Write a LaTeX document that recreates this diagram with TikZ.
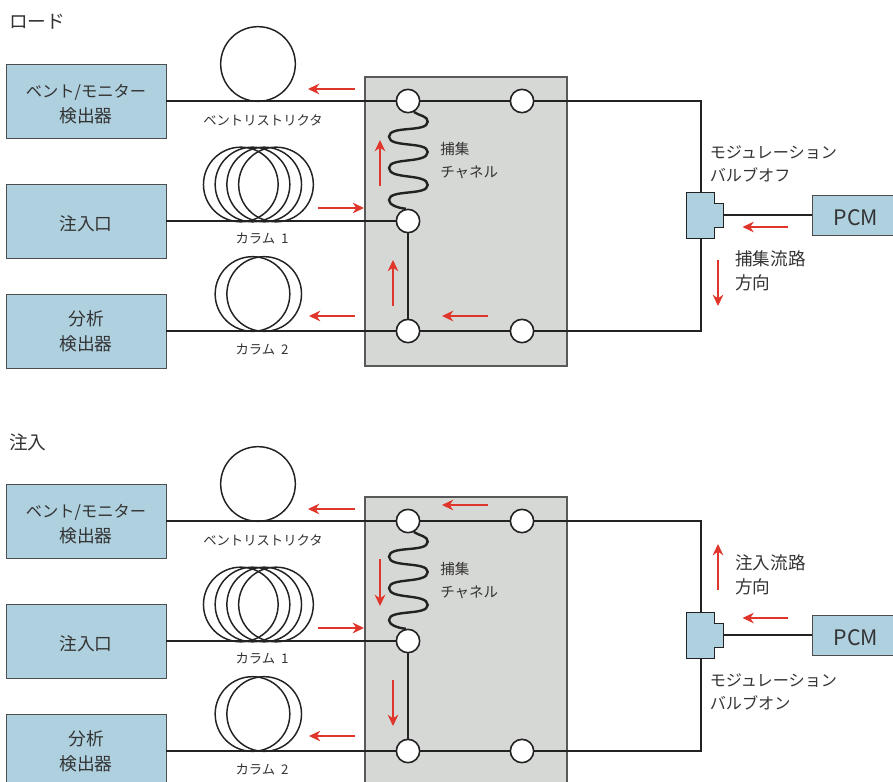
\documentclass[tikz,border=0pt]{standalone}
\usepackage{fontspec}
\setmainfont{Noto Sans CJK JP}
\usetikzlibrary{arrows.meta}
\definecolor{boxblue}{HTML}{AFD0DF}
\definecolor{panelgray}{HTML}{D6D8D5}
\definecolor{inkdark}{HTML}{222222}
\definecolor{textdark}{HTML}{333333}
\definecolor{flowred}{HTML}{E0352B}
\newcounter{flowno}
\newcommand{\flowarrow}[2]{\stepcounter{flowno}\coordinate (fs\theflowno) at (#1); \coordinate (fe\theflowno) at (#2); \draw[flowline] (fs\theflowno) -- (fe\theflowno);}
\newcommand{\kanasize}{\fontsize{12.2pt}{18.75pt}\selectfont}
\tikzset{
  unitbox/.style={draw=inkdark!80,line width=0.6pt,fill=boxblue,minimum width=120pt,minimum height=55.5pt,inner sep=0pt,align=center,text=textdark,font=\fontsize{13.3pt}{18.75pt}\selectfont},
  panelbox/.style={draw=black!65,line width=1pt,fill=panelgray,minimum width=151.5pt,minimum height=216.75pt,inner sep=0pt},
  pcmbox/.style={draw=inkdark!80,line width=0.6pt,fill=boxblue,minimum width=66pt,minimum height=30pt,inner sep=0pt,text=textdark,font=\fontsize{16pt}{18pt}\selectfont},
  portcircle/.style={circle,draw=inkdark,line width=1.2pt,fill=white,minimum size=17.5pt,inner sep=0pt},
  restrict/.style={circle,draw=inkdark,line width=1.1pt,minimum size=56pt,inner sep=0pt},
  pipe/.style={draw=inkdark,line width=1.5pt},
  coilline/.style={draw=inkdark,line width=1.8pt},
  flowline/.style={draw=flowred,line width=0.9pt,-{Stealth[length=8.5pt,width=8pt]}},
  smalllabel/.style={text=textdark,font=\fontsize{10pt}{12pt}\selectfont,inner sep=0pt},
  midlabel/.style={text=textdark,font=\fontsize{10.9pt}{17.3pt}\selectfont,inner sep=0pt,align=left,anchor=west},
  biglabel/.style={text=textdark,font=\fontsize{13.2pt}{17.8pt}\selectfont,inner sep=0pt,align=left,anchor=west},
  valvelabel/.style={text=textdark,font=\fontsize{12.1pt}{17.5pt}\selectfont,inner sep=0pt,align=left,anchor=west},
  headlabel/.style={text=textdark,font=\fontsize{14pt}{16pt}\selectfont,inner sep=0pt,anchor=west}
}
\newcommand{\hydropanel}[1]{%
  \node[panelbox] (panel#1) at (466,221.5) {};
  \node[unitbox] (vent#1) at (86,101) {\rule{0pt}{1.1em}\kanasize ベント/モニター\\検出器};
  \node[unitbox] (inlet#1) at (86,221) {\rule{0pt}{1.15em}注入口};
  \node[unitbox] (ana#1) at (86,331) {分析\\検出器};
  \node[pcmbox] (pcm#1) at (856,215) {\rule{0pt}{1em}PCM};
  \node[restrict] (rs#1) at (258,64) {};
  \node[restrict] (ca#1) at (240.8,184.5) {};
  \node[restrict] (cb#1) at (252.5,184.5) {};
  \node[restrict] (cc#1) at (264.2,184.5) {};
  \node[restrict] (cd#1) at (276,184.5) {};
  \node[restrict] (ce#1) at (252.5,294) {};
  \node[restrict] (cf#1) at (264.2,294) {};
  \node[portcircle] (ja#1) at (408,101) {};
  \node[portcircle] (jb#1) at (522,101) {};
  \node[portcircle] (jc#1) at (408,221) {};
  \node[portcircle] (jd#1) at (408,331) {};
  \node[portcircle] (je#1) at (522,331) {};
  \coordinate (vt#1) at (701,192);
  \coordinate (vb#1) at (701,238);
  \coordinate (ve#1) at (723,215);
  \coordinate (ct#1) at (701,101);
  \coordinate (cb2#1) at (701,331);
  \draw[pipe] (vent#1) -- (ja#1);
  \draw[pipe] (ja#1) -- (jb#1);
  \draw[pipe] (jb#1) -- (ct#1) -- (vt#1);
  \draw[pipe] (inlet#1) -- (jc#1);
  \draw[pipe] (jc#1) -- (jd#1);
  \draw[pipe] (ana#1) -- (jd#1);
  \draw[pipe] (jd#1) -- (je#1);
  \draw[pipe] (je#1) -- (cb2#1) -- (vb#1);
  \draw[pipe] (ve#1) -- (pcm#1);
  \draw[coilline] (ja#1.-62) .. controls (420,116) and (427.7,116) .. (427.7,121.7)
    .. controls (427.7,133) and (389,125) .. (389,136.7)
    .. controls (389,148) and (427.7,141) .. (427.7,152)
    .. controls (427.7,164) and (389,157) .. (389,168)
    .. controls (389,180) and (427.7,173) .. (427.7,185)
    .. controls (427.7,196) and (389,189) .. (389,200)
    .. controls (389,205) and (398,208) .. (jc#1.100);
  \draw[draw=inkdark,line width=0.7pt,fill=boxblue] (686.5,192) -- (714,192) -- (714,203) -- (723,203) -- (723,227) -- (714,227) -- (714,238) -- (686.5,238) -- cycle;
  \node[smalllabel] (lrs#1) at (263,120) {ベントリストリクタ};
  \node[smalllabel] (lca#1) at (262,239) {カラム\hspace{0.45em}1};
  \node[smalllabel] (lcb#1) at (262,350) {カラム\hspace{0.45em}2};
  \node[midlabel] (ltr#1) at (440,160.5) {捕集\\チャネル};
}
\begin{document}
\begin{tikzpicture}[x=0.75pt,y=-0.75pt]
\useasboundingbox (0,0) rectangle (893,782);
\clip (0,0) rectangle (893,782);
% --- load position ---
\node[headlabel] (loadtitle) at (9,22) {ロード};
\hydropanel{u}
\node[valvelabel] (valveu) at (709.5,164) {モジュレーション\\バルブオフ};
\node[biglabel] (diru) at (735,271) {捕集流路\\方向};
\flowarrow{355,89}{308,89}
\flowarrow{318,208}{364,208}
\flowarrow{380,186}{380,140}
\flowarrow{393,306}{393,260}
\flowarrow{355,316}{309,316}
\flowarrow{488,316}{442,316}
\flowarrow{788,227}{742.5,227}
\flowarrow{718,260}{718,306}
% --- inject position ---
\node[headlabel] (injtitle) at (9,442) {注入};
\begin{scope}[yshift=-315pt]
\hydropanel{d}
\node[valvelabel] (valved) at (709.5,272) {モジュレーション\\バルブオン};
\node[biglabel] (dird) at (735,155) {注入流路\\方向};
\flowarrow{355,89}{308,89}
\flowarrow{488,85}{442,85}
\flowarrow{318,208}{364,208}
\flowarrow{380,139}{380,186}
\flowarrow{393,260}{393,306}
\flowarrow{355,316}{309,316}
\flowarrow{788,198}{742.5,198}
\flowarrow{718,170}{718,124}
\end{scope}
\end{tikzpicture}
\end{document}
